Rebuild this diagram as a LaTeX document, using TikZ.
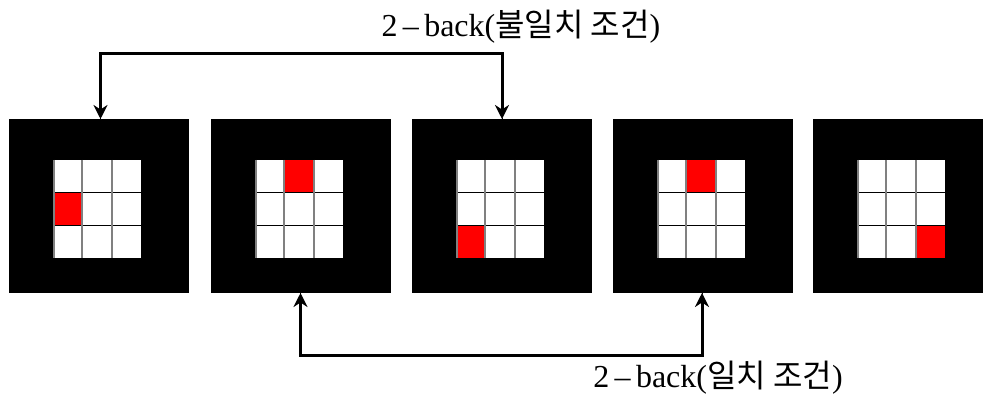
\documentclass[tikz,border=0pt]{standalone}
\usepackage{fontspec}
\setmainfont{Liberation Serif}
\newfontfamily\kr{Noto Sans CJK KR}
\usetikzlibrary{arrows.meta}
\begin{document}
\begin{tikzpicture}[x=1pt,y=-1pt,
  panelbox/.style={fill=black,draw=none},
  tip/.tip={Stealth[length=14pt,width=14pt]},
  conn/.style={line width=3pt,tip-tip},
  lbl/.style={font=\fontsize{32}{36}\selectfont,inner sep=0pt}]
\useasboundingbox (0,0) rectangle (983,398);
\fill[white] (0,0) rectangle (983,398);
% panels: name, left x, red col, red row
\foreach \n/\px/\rc/\rr in {1/9/0/1, 2/211/1/0, 3/412/0/2, 4/613/1/0, 5/813/2/2}{
  \fill[black] (\px,119) rectangle ++(180,174);
  \begin{scope}[shift={(\px+44,160)}]
    \fill[white] (0,0) rectangle (88,98);
    \fill[red] (\rc*29.33,\rr*32.67) rectangle ++(29.33,32.67);
    \draw[black,line width=1.2pt] (0,32.67) -- (88,32.67) (0,65.33) -- (88,65.33);
    \draw[gray,line width=2pt] (1,0) -- (1,98) (29.33,0) -- (29.33,98) (58.67,0) -- (58.67,98);
  \end{scope}
}
\node[panelbox,inner sep=0pt] (A) at (100.5,119) {};
\node[panelbox,inner sep=0pt] (C) at (502,119) {};
\node[panelbox,inner sep=0pt] (B) at (300.5,293) {};
\node[panelbox,inner sep=0pt] (D) at (702,293) {};
\coordinate (t) at (300,54);
\coordinate (b) at (500,355);
\draw[conn] (A.center) |- (t) -| (C.center);
\draw[conn] (B.center) |- (b) -| (D.center);
\node[lbl] (top) at (521,27) {2\,–\,back({\kr 불일치 조건})};
\node[lbl] (bottom) at (718,378) {2\,–\,back({\kr 일치 조건})};
\end{tikzpicture}
\end{document}
